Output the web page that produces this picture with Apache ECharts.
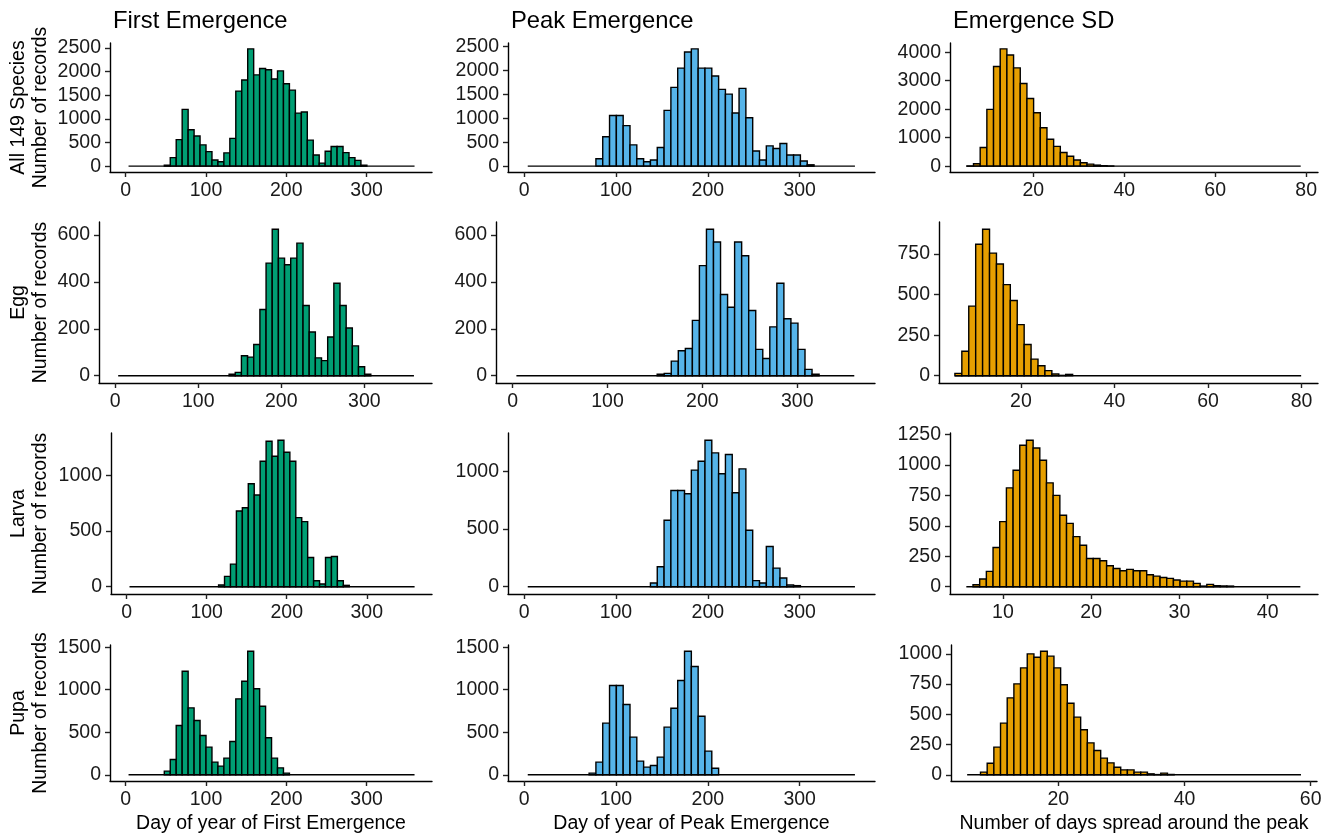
<!DOCTYPE html>
<html><head><meta charset="utf-8">
<script src="https://cdn.jsdelivr.net/npm/echarts@6/dist/echarts.min.js"></script>
<style>html,body{margin:0;padding:0;background:#fff}#c{width:1333px;height:838px}</style>
</head><body><div id="c"></div>
<script>
// ---------- labels ----------
const rowNames = ['All 149 Species', 'Egg', 'Larva', 'Pupa'];
const colTitles = ['First Emergence', 'Peak Emergence', 'Emergence SD'];
const xTitles = ['Day of year of First Emergence', 'Day of year of Peak Emergence', 'Number of days spread around the peak'];

// ---------- histogram bins (start, width) ----------
const firstBinStart = 3.6, peakBinStart = 4.0, dayBinWidth = 7.42;
const sdBinStart = [5.4, 5.9, 5.85, 5.56];
const sdBinWidth = [1.468, 1.48, 0.757, 1.058];

// ---------- counts per bin ----------
const firstAll = [0,0,0,0,0,0,20,180,560,1200,770,636,450,307,130,93,280,586,1586,1821,2479,1929,2064,2036,1843,2014,1743,1607,1121,1143,550,236,64,314,414,414,286,179,121,20,0,0,0,0,0,0,0,0];
const firstEgg = [0,0,0,0,0,0,0,0,0,0,0,0,0,0,0,0,0,0,6,14,85,79,133,282,480,624,501,473,501,565,299,186,76,64,165,394,299,203,127,38,6,0,0,0,0,0,0,0];
const firstLarva = [0,0,0,0,0,0,0,0,0,0,0,0,0,0,0,15,93,203,681,710,925,824,1128,1307,1173,1316,1209,1128,621,585,263,54,24,263,272,54,12,0,0,0,0,0,0,0,0,0,0,0];
const firstPupa = [0,0,0,0,0,0,43,180,580,1218,787,638,462,325,149,102,196,392,893,1100,1453,1011,806,435,196,82,20,0,0,0,0,0,0,0,0,0,0,0,0,0,0,0,0,0,0,0,0,0];

const peakAll = [0,0,0,0,0,0,0,0,0,0,155,613,1056,1056,845,444,155,92,127,387,1162,1641,2042,2380,2444,2042,2042,1880,1599,1500,1106,1620,1007,317,127,423,366,472,232,232,106,28,0,0,0,0,0,0];
const peakEgg = [0,0,0,0,0,0,0,0,0,0,0,0,0,0,0,0,0,0,0,0,6,10,62,106,116,236,469,624,570,346,292,570,511,278,112,73,208,394,243,224,112,27,6,0,0,0,0,0];
const peakLarva = [0,0,0,0,0,0,0,0,0,0,0,0,0,0,0,0,0,0,32,172,575,833,833,805,1009,1086,1267,1158,977,1144,813,1020,489,52,32,348,161,75,14,9,0,0,0,0,0,0,0,0];
const peakPupa = [0,0,0,0,0,0,0,0,0,20,149,607,1050,1050,827,443,161,90,110,208,560,783,1108,1453,1273,689,278,78,0,0,0,0,0,0,0,0,0,0,0,0,0,0,0,0,0,0,0,0];

const sdAll = [5,84,657,1994,3499,4119,3904,3451,2901,2376,1875,1349,943,693,478,346,215,119,72,36,15,5,0,0,0,0,0,0,0,0,0,0,0,0,0,0,0,0,0,0,0,0,0,0,0,0,0,0,0,0];
const sdEgg = [14,151,429,811,903,756,689,562,464,315,192,102,61,31,10,2,8,0,0,0,0,0,0,0,0,0,0,0,0,0,0,0,0,0,0,0,0,0,0,0,0,0,0,0,0,0,0,0,0,0];
const sdLarva = [0,16,63,126,322,535,813,958,1163,1204,1141,1040,854,751,587,521,412,341,232,232,213,172,150,131,142,131,131,98,87,76,68,55,46,46,27,5,19,8,6,5,0,0,0,0,0,0,0,0,0,0];
const sdPupa = [0,0,22,96,229,427,636,752,884,1000,972,1022,981,884,744,592,477,372,264,201,138,99,63,41,41,22,22,8,2,14,3,0,0,0,0,0,0,0,0,0,0,0,0,0,0,0,0,0,0,0];

// ---------- tick labels ----------
const dayTicks = [0, 100, 200, 300];
const sdTicks = [[20, 40, 60, 80], [20, 40, 60, 80], [10, 20, 30, 40], [20, 40, 60]];
const yTicks = [
  [[0,500,1000,1500,2000,2500], [0,500,1000,1500,2000,2500], [0,1000,2000,3000,4000]],
  [[0,200,400,600], [0,200,400,600], [0,250,500,750]],
  [[0,500,1000], [0,500,1000], [0,250,500,750,1000,1250]],
  [[0,500,1000,1500], [0,500,1000,1500], [0,250,500,750,1000]]
];

// ---------- layout ----------
const colors = ['#009E73', '#56B4E9', '#E69F00'];
const rowRect = [[43,129],[222,161],[433,161],[645,136]];
const colRect = [
  [[110,322],[508,367],[950,368]],
  [[99,333],[496,379],[939,379]],
  [[111,321],[508,367],[950,368]],
  [[110,322],[508,367],[951,366]]
];
const dayRange = [[-19.5,381.5],[-17.5,382]];
const sdRange = [[1.7,82.6],[2.5,83.5],[4.0,45.7],[3.0,61.0]];
const FONT = 'Liberation Sans, Arial, sans-serif';
const plain = v => String(v);

const counts = [
  [firstAll, peakAll, sdAll],
  [firstEgg, peakEgg, sdEgg],
  [firstLarva, peakLarva, sdLarva],
  [firstPupa, peakPupa, sdPupa]
];

const grids = [], xAxes = [], yAxes = [], series = [], graphics = [];
let gi = 0;
for (let r = 0; r < 4; r++) {
  for (let c = 0; c < 3; c++) {
    const data = counts[r][c];
    const start = c === 0 ? firstBinStart : (c === 1 ? peakBinStart : sdBinStart[r]);
    const w = c < 2 ? dayBinWidth : sdBinWidth[r];
    const maxC = Math.max.apply(null, data);
    const xr = c < 2 ? dayRange[c] : sdRange[r];
    const xt = c < 2 ? dayTicks : sdTicks[r];
    const yt = yTicks[r][c];
    grids.push({left: colRect[r][c][0], top: rowRect[r][0], width: colRect[r][c][1], height: rowRect[r][1]});
    xAxes.push({
      gridIndex: gi, type: 'value', min: xr[0], max: xr[1],
      axisLine: {show: true, onZero: false, lineStyle: {color: '#000', width: 1.4}},
      axisTick: {show: true, length: 5, customValues: xt, lineStyle: {color: '#222', width: 1.4}},
      axisLabel: {customValues: xt, formatter: plain, fontSize: 19.5, color: '#1a1a1a', margin: 9, fontFamily: FONT},
      splitLine: {show: false}
    });
    yAxes.push({
      gridIndex: gi, type: 'value', min: -0.05 * maxC, max: 1.05 * maxC,
      axisLine: {show: true, onZero: false, lineStyle: {color: '#000', width: 1.4}},
      axisTick: {show: true, length: 5, customValues: yt, lineStyle: {color: '#222', width: 1.4}},
      axisLabel: {customValues: yt, formatter: plain, fontSize: 19.5, color: '#1a1a1a', margin: 9, fontFamily: FONT},
      splitLine: {show: false}
    });
    const barData = data.map((v, i) => [start + i * w, start + (i + 1) * w, v]);
    series.push({
      type: 'custom', xAxisIndex: gi, yAxisIndex: gi, z: 2,
      itemStyle: {color: colors[c]},
      encode: {x: [0, 1], y: 2},
      data: barData,
      renderItem: function (params, api) {
        const v = api.value(2);
        if (!v) return null;
        const p0 = api.coord([api.value(0), 0]);
        const p1 = api.coord([api.value(1), v]);
        return {type: 'rect', shape: {x: p0[0], y: p1[1], width: p1[0] - p0[0], height: p0[1] - p1[1]},
          style: {fill: api.visual('color'), stroke: '#000', lineWidth: 1.4}};
      }
    });
    series.push({
      type: 'line', xAxisIndex: gi, yAxisIndex: gi, z: 3, silent: true,
      showSymbol: false, symbol: 'none',
      data: [[start, 0], [start + data.length * w, 0]],
      lineStyle: {color: '#000', width: 1.4}
    });
    gi++;
  }
  graphics.push({
    type: 'text', x: 30, y: rowRect[r][0] + rowRect[r][1] / 2, rotation: Math.PI / 2,
    style: {text: rowNames[r] + '\nNumber of records', font: '19.5px ' + FONT, fill: '#000',
      textAlign: 'center', textVerticalAlign: 'middle', lineHeight: 22}
  });
}
for (let c = 0; c < 3; c++) {
  graphics.push({
    type: 'text', x: colRect[0][c][0] + 3, y: 21,
    style: {text: colTitles[c], font: '23.8px ' + FONT, fill: '#000', textAlign: 'left', textVerticalAlign: 'middle'}
  });
  graphics.push({
    type: 'text', x: colRect[3][c][0] + colRect[3][c][1] / 2, y: 824,
    style: {text: xTitles[c], font: '19.5px ' + FONT, fill: '#000', textAlign: 'center', textVerticalAlign: 'middle'}
  });
}

const chart = echarts.init(document.getElementById('c'), null, {renderer: 'canvas'});
chart.setOption({
  animation: false,
  backgroundColor: '#fff',
  grid: grids, xAxis: xAxes, yAxis: yAxes, series: series,
  graphic: graphics
});
</script>
</body></html>
